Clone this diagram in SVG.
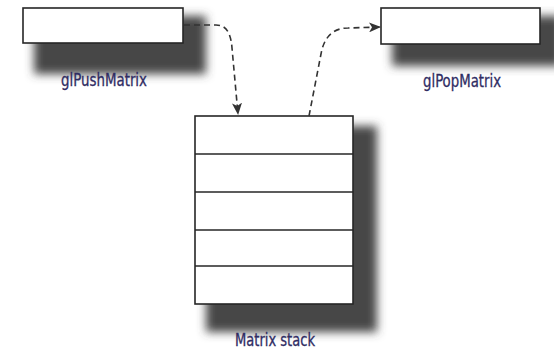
<svg xmlns="http://www.w3.org/2000/svg" width="554" height="350" viewBox="0 0 554 350">
  <style>
    .box { fill: #ffffff; stroke: #262626; stroke-width: 1.6; }
    .row { stroke: #262626; stroke-width: 1.6; }
    .shadow { fill: #464646; filter: url(#soft); }
    .label { font-family: "DejaVu Sans Condensed", "DejaVu Sans", sans-serif; font-stretch: condensed; font-size: 18px; fill: #2f2c63; stroke: #2f2c63; stroke-width: 0.3; }
    .link { fill: none; stroke: #333333; stroke-width: 1.6; stroke-dasharray: 6 4; }
  </style>
  <defs>
    <filter id="soft" x="-20%" y="-20%" width="140%" height="140%">
      <feGaussianBlur stdDeviation="5"/>
    </filter>
    <marker id="arrow" viewBox="0 0 12 10" refX="11" refY="5" markerWidth="12" markerHeight="10" markerUnits="userSpaceOnUse" orient="auto">
      <path d="M0,0 L12,5 L0,10 L3,5 Z" fill="#333333"/>
    </marker>
  </defs>
  <rect width="554" height="350" fill="#ffffff"/>

  <g id="push">
    <rect class="shadow" x="34" y="16" width="172" height="58"/>
    <rect class="box" x="23" y="8" width="160" height="35"/>
    <text class="label" x="61" y="86" textLength="86" lengthAdjust="spacingAndGlyphs">glPushMatrix</text>
  </g>

  <g id="pop">
    <rect class="shadow" x="392" y="16" width="170" height="50"/>
    <rect class="box" x="381" y="8" width="159" height="36"/>
    <text class="label" x="423" y="87" textLength="78" lengthAdjust="spacingAndGlyphs">glPopMatrix</text>
  </g>

  <g id="stack">
    <rect class="shadow" x="206" y="126" width="171" height="206"/>
    <rect class="box" x="195" y="116" width="158" height="188"/>
    <line class="row" x1="195" y1="154" x2="353" y2="154"/>
    <line class="row" x1="195" y1="192" x2="353" y2="192"/>
    <line class="row" x1="195" y1="230" x2="353" y2="230"/>
    <line class="row" x1="195" y1="266" x2="353" y2="266"/>
    <text class="label" x="235" y="346" textLength="80" lengthAdjust="spacingAndGlyphs">Matrix stack</text>
  </g>

  <g id="connectors">
    <path class="link" d="M184,25 H216 C228,25 231,36 232,48 L238,114" marker-end="url(#arrow)"/>
    <path class="link" d="M309,116 L321,54 C324,37 333,28 348,28 L380,27" marker-end="url(#arrow)"/>
  </g>
</svg>
